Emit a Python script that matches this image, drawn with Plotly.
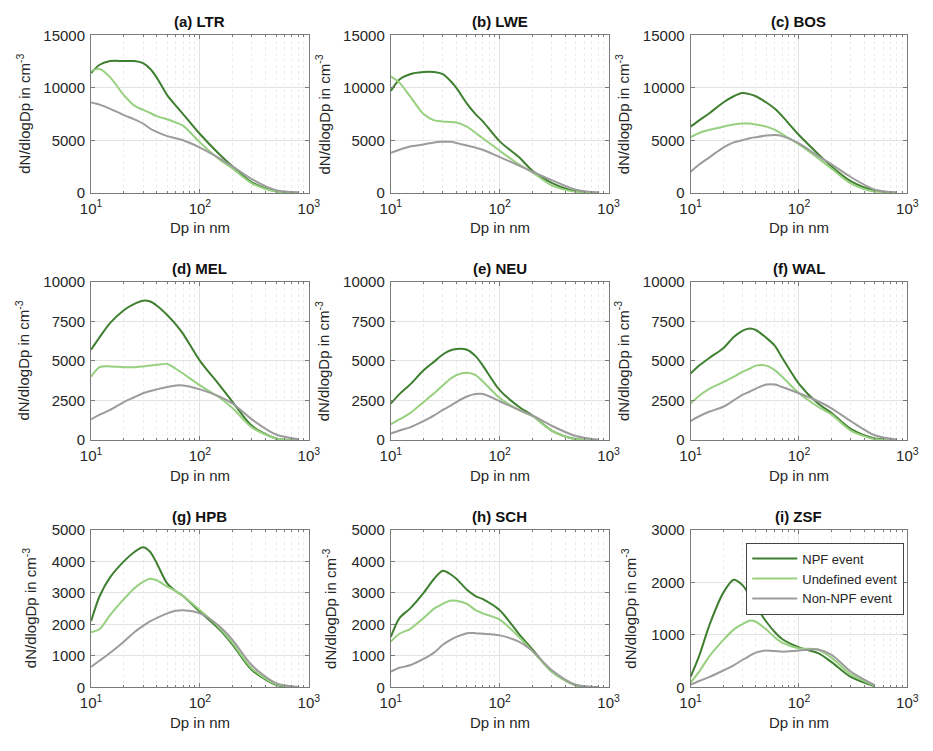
import plotly.graph_objects as go

# ---------------- data ----------------
DP = [10, 12, 15, 20, 25, 30, 35, 40, 50, 60, 70, 100, 150, 200, 300, 500, 800]

LTR_NPF = [11400, 12200, 12550, 12550, 12550, 12350, 11800, 11000, 9300, 8300, 7500, 5600, 3700, 2500, 1000, 150, 0]
LTR_UND = [11600, 11800, 11000, 9300, 8300, 7900, 7600, 7300, 7000, 6700, 6400, 4800, 3200, 2300, 900, 100, 0]
LTR_NON = [8600, 8400, 8000, 7400, 7000, 6600, 6100, 5800, 5400, 5200, 5000, 4300, 3300, 2500, 1300, 250, 30]

LWE_NPF = [9700, 10800, 11300, 11500, 11500, 11300, 10700, 10000, 8500, 7500, 6800, 4900, 3400, 2100, 950, 150, 0]
LWE_UND = [11100, 10500, 9200, 7500, 6900, 6800, 6750, 6700, 6300, 5700, 5200, 4000, 2700, 1950, 700, 80, 0]
LWE_NON = [3800, 4100, 4400, 4600, 4800, 4850, 4850, 4750, 4500, 4300, 4100, 3400, 2600, 2000, 1200, 300, 30]

BOS_NPF = [6300, 6900, 7600, 8600, 9200, 9500, 9400, 9200, 8600, 8000, 7300, 5500, 3700, 2500, 1100, 200, 0]
BOS_UND = [5300, 5700, 6000, 6300, 6500, 6600, 6600, 6500, 6300, 6000, 5600, 4600, 3300, 2300, 900, 100, 0]
BOS_NON = [2000, 2700, 3400, 4300, 4800, 5000, 5200, 5300, 5450, 5500, 5400, 4700, 3500, 2700, 1500, 300, 30]

MEL_NPF = [5700, 6500, 7400, 8200, 8600, 8800, 8750, 8500, 7900, 7300, 6700, 5000, 3500, 2400, 900, 100, 0]
MEL_UND = [4000, 4600, 4650, 4600, 4600, 4650, 4700, 4750, 4800, 4500, 4200, 3450, 2700, 2000, 800, 100, 0]
MEL_NON = [1300, 1600, 1900, 2400, 2700, 2950, 3100, 3200, 3350, 3450, 3450, 3200, 2750, 2300, 1300, 350, 50]

NEU_NPF = [2300, 2900, 3500, 4400, 4950, 5400, 5650, 5750, 5700, 5300, 4700, 3150, 2100, 1550, 600, 60, 0]
NEU_UND = [1000, 1300, 1700, 2400, 2950, 3450, 3850, 4100, 4250, 4100, 3700, 2650, 1900, 1500, 600, 50, 0]
NEU_NON = [400, 600, 800, 1200, 1550, 1900, 2150, 2400, 2750, 2900, 2900, 2450, 1900, 1550, 900, 250, 20]

WAL_NPF = [4200, 4700, 5200, 5800, 6500, 6900, 7050, 6950, 6450, 5950, 5200, 3550, 2300, 1700, 700, 100, 0]
WAL_UND = [2300, 2800, 3250, 3650, 4000, 4300, 4500, 4700, 4700, 4400, 4000, 2950, 2100, 1600, 600, 50, 0]
WAL_NON = [1200, 1500, 1800, 2100, 2500, 2850, 3050, 3250, 3500, 3500, 3350, 2950, 2450, 2000, 1200, 300, 30]

HPB_NPF = [2100, 2900, 3500, 4000, 4300, 4450, 4300, 3950, 3300, 3050, 2900, 2400, 1850, 1350, 550, 80, 0]
HPB_UND = [1750, 1850, 2300, 2800, 3150, 3350, 3450, 3400, 3200, 3050, 2900, 2450, 1900, 1400, 600, 100, 0]
HPB_NON = [650, 850, 1100, 1450, 1750, 1950, 2100, 2200, 2350, 2430, 2450, 2350, 1950, 1500, 700, 130, 10]

SCH_NPF = [1600, 2200, 2500, 3000, 3450, 3700, 3600, 3450, 3100, 2900, 2800, 2450, 1700, 1200, 500, 60, 0]
SCH_UND = [1450, 1700, 1850, 2200, 2500, 2650, 2750, 2750, 2650, 2450, 2350, 2150, 1600, 1150, 500, 60, 0]
SCH_NON = [500, 620, 700, 900, 1100, 1350, 1500, 1600, 1720, 1720, 1700, 1650, 1450, 1150, 550, 80, 5]

ZSF_NPF = [200, 600, 1200, 1800, 2050, 1950, 1750, 1550, 1250, 1050, 920, 760, 650, 480, 200, 20, None]
ZSF_UND = [90, 300, 600, 900, 1100, 1200, 1270, 1250, 1100, 950, 850, 740, 720, 560, 250, 30, None]
ZSF_NON = [50, 120, 200, 320, 420, 520, 600, 660, 700, 690, 680, 700, 720, 620, 300, 40, None]

TITLES = ["(a) LTR", "(b) LWE", "(c) BOS", "(d) MEL", "(e) NEU", "(f) WAL", "(g) HPB", "(h) SCH", "(i) ZSF"]
SERIES_NAMES = ["NPF event", "Undefined event", "Non-NPF event"]
Y_MAX = [15000, 15000, 15000, 10000, 10000, 10000, 5000, 5000, 3000]
Y_DTICK = [5000, 5000, 5000, 2500, 2500, 2500, 1000, 1000, 1000]
X_TICKVALS = [10, 100, 1000]
X_TICKTEXT = ["10<sup>1</sup>", "10<sup>2</sup>", "10<sup>3</sup>"]
X_MINOR = [20, 30, 40, 50, 60, 70, 80, 90, 200, 300, 400, 500, 600, 700, 800, 900]

PANEL_DATA = [
    (LTR_NPF, LTR_UND, LTR_NON), (LWE_NPF, LWE_UND, LWE_NON), (BOS_NPF, BOS_UND, BOS_NON),
    (MEL_NPF, MEL_UND, MEL_NON), (NEU_NPF, NEU_UND, NEU_NON), (WAL_NPF, WAL_UND, WAL_NON),
    (HPB_NPF, HPB_UND, HPB_NON), (SCH_NPF, SCH_UND, SCH_NON), (ZSF_NPF, ZSF_UND, ZSF_NON),
]

# ---------------- style / layout ----------------
W, H = 933, 751
COLORS = ["#3f7f30", "#97d07f", "#9c9c9c"]
FONT = "Liberation Sans, Arial, sans-serif"
COL_PX = [(82, 305), (389, 612), (696, 918)]
ROW_PX = [(27, 188), (279, 441), (533, 694)]
YTITLE_OFF = [70, 70, 63]
AX_COLOR = "#7a7a7a"
GRID = "#e3e3e3"
MINOR_GRID = "#ececec"
TXT = "#262626"

fig = go.Figure()
layout = dict(
    width=W, height=H, margin=dict(l=0, r=0, t=0, b=0),
    paper_bgcolor="white", plot_bgcolor="white",
    font=dict(family=FONT, size=13, color=TXT),
    showlegend=True,
    legend=dict(x=753 / W, y=1 - 546 / H, xanchor="left", yanchor="top",
                bgcolor="white", bordercolor="#444", borderwidth=1,
                font=dict(size=13, color=TXT), itemwidth=45,
                tracegroupgap=0),
)
annotations = []

for i, series in enumerate(PANEL_DATA):
    r, c = divmod(i, 3)
    sfx = "" if i == 0 else str(i + 1)
    x0, x1 = COL_PX[c]
    yt, yb = ROW_PX[r]
    for name, vals, color in zip(SERIES_NAMES, series, COLORS):
        fig.add_trace(go.Scatter(
            x=DP, y=vals, mode="lines", name=name,
            line=dict(color=color, width=2, shape="spline", smoothing=0.8),
            showlegend=(i == 8), xaxis="x" + sfx, yaxis="y" + sfx,
            hoverinfo="skip"))
    layout["xaxis" + sfx] = dict(
        type="log", range=[1, 3], domain=[x0 / W, x1 / W], anchor="y" + sfx,
        tickmode="array", tickvals=X_TICKVALS, ticktext=X_TICKTEXT,
        ticks="inside", ticklen=4, tickcolor=AX_COLOR,
        showline=True, linecolor=AX_COLOR, linewidth=1, mirror="ticks",
        showgrid=True, gridcolor=GRID, zeroline=False,
        tickfont=dict(size=15, color=TXT), ticklabelstandoff=2,
        minor=dict(tickmode="array", tickvals=X_MINOR, ticks="inside", ticklen=2,
                   tickcolor=AX_COLOR, showgrid=True, gridcolor=MINOR_GRID,
                   griddash="dot"),
    )
    layout["yaxis" + sfx] = dict(
        range=[0, Y_MAX[i]], dtick=Y_DTICK[i], tick0=0, tickformat="d",
        domain=[1 - yb / H, 1 - yt / H], anchor="x" + sfx,
        ticks="inside", ticklen=4, tickcolor=AX_COLOR,
        showline=True, linecolor=AX_COLOR, linewidth=1, mirror="ticks",
        showgrid=True, gridcolor=GRID, zeroline=False,
        tickfont=dict(size=15, color=TXT), ticklabelstandoff=2,
    )
    # panel title
    annotations.append(dict(
        text="<b>" + TITLES[i] + "</b>", x=(x0 + x1) / 2 / W, y=1 - (yt - 3) / H,
        xref="paper", yref="paper", xanchor="center", yanchor="bottom",
        showarrow=False, font=dict(size=15, color="#111")))
    # x title
    annotations.append(dict(
        text="Dp in nm", x=(x0 + x1) / 2 / W, y=1 - (yb + 36) / H,
        xref="paper", yref="paper", xanchor="center", yanchor="middle",
        showarrow=False, font=dict(size=15, color=TXT)))
    # y title
    annotations.append(dict(
        text="dN/dlogDp in cm<sup>-3</sup>", x=(x0 - YTITLE_OFF[r]) / W,
        y=1 - (yt + yb) / 2 / H,
        xref="paper", yref="paper", xanchor="center", yanchor="middle",
        textangle=-90, showarrow=False, font=dict(size=15, color=TXT)))

layout["annotations"] = annotations
fig.update_layout(**layout)
fig.write_html("out.html")
